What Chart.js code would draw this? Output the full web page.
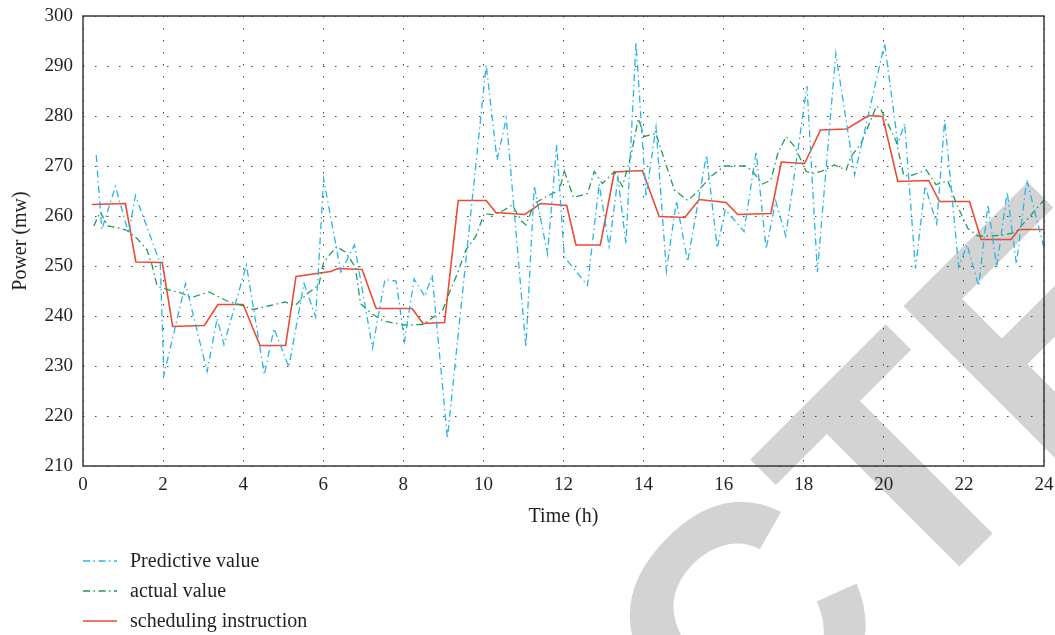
<!DOCTYPE html>
<html>
<head>
<meta charset="utf-8">
<script src="https://cdn.jsdelivr.net/npm/chart.js@4.4.0/dist/chart.umd.min.js"></script>
<style>
html, body { margin: 0; padding: 0; background: #fff; }
#wrap { width: 1055px; height: 635px; position: relative; }
</style>
</head>
<body>
<div id="wrap"><canvas id="chart"></canvas></div>
<script>
// values (time in h, power in mw)
const predTime = [0.33,0.47,0.81,1.14,1.31,1.93,2.02,2.56,3.1,3.35,3.52,4.08,4.53,4.77,5.14,5.52,5.81,6.01,6.44,6.78,7.23,7.54,7.82,8.03,8.27,8.54,8.72,9.1,10.07,10.34,10.57,11.06,11.27,11.6,11.83,12.02,12.6,12.89,13.14,13.36,13.56,13.81,14.06,14.31,14.57,14.82,15.1,15.57,15.84,16.04,16.51,16.81,17.06,17.3,17.55,18.08,18.34,18.8,19.27,20.02,20.35,20.52,20.79,21.03,21.32,21.52,21.87,22.08,22.37,22.6,22.82,23.08,23.31,23.57,24.0];
const predValue = [272.2,257.3,265.9,256.5,264.1,250.5,228.2,246.5,228.9,239.5,234.3,250.2,228.3,237.5,229.8,246.5,239.8,267.4,248.8,254.2,233.6,247.3,247.0,235.0,247.4,243.9,248.2,215.5,290.2,271.2,279.5,233.8,266.0,252.4,274.2,251.8,246.1,266.4,253.9,267.6,254.4,294.8,263.9,277.8,249.0,263.0,250.9,272.2,253.6,261.3,256.9,272.9,253.4,263.0,256.0,286.0,248.8,292.5,268.2,294.5,274.5,278.5,249.5,266.0,258.5,279.2,249.8,254.2,246.0,262.3,249.8,264.8,250.4,267.2,253.6];

const actualTime = [0.27,0.43,0.62,0.9,1.1,1.35,1.6,1.73,1.85,2.1,2.45,2.7,3.15,3.6,4.02,4.25,4.68,5.05,5.3,5.62,5.89,6.01,6.33,6.55,6.8,6.93,7.2,7.5,8.02,8.5,8.77,8.97,9.14,9.35,9.56,9.81,10.02,10.27,10.52,10.72,10.95,11.06,11.27,11.6,11.9,12.02,12.25,12.6,12.77,12.97,13.27,13.47,13.68,13.87,14.02,14.31,14.52,14.77,15.1,15.35,15.68,16.02,16.56,16.72,16.97,17.18,17.35,17.56,17.77,17.93,18.06,18.22,18.43,18.77,19.06,19.18,19.43,19.82,19.93,20.1,20.31,20.5,20.72,21.06,21.3,21.6,21.81,22.1,22.35,22.68,23.0,23.3,23.6,24.0];
const actualValue = [258.0,260.8,258.0,257.6,257.1,255.5,253.2,250.0,246.0,245.3,244.6,243.7,244.8,243.0,242.0,241.3,242.1,242.8,242.1,244.6,246.2,250.8,253.9,252.8,249.8,242.5,240.5,239.0,238.2,238.3,239.9,240.9,244.5,248.5,253.2,255.9,260.5,260.2,261.2,262.2,259.0,258.2,262.5,264.0,265.2,269.0,263.7,264.5,268.9,266.5,268.9,265.9,271.9,279.5,275.9,276.5,271.2,265.2,263.1,264.9,267.9,270.0,270.0,268.9,266.4,267.2,272.5,275.9,273.9,271.2,268.9,268.5,268.9,270.2,269.2,271.9,274.5,282.0,281.2,278.5,274.9,268.0,268.2,269.2,266.3,267.0,262.5,257.5,256.0,256.0,256.2,256.8,259.5,263.2];

const schedTime = [0.22,1.06,1.32,1.98,2.24,3.03,3.37,4.0,4.42,5.06,5.32,6.18,6.37,6.97,7.32,8.22,8.49,9.03,9.37,10.07,10.31,11.03,11.43,12.08,12.31,12.92,13.27,13.97,14.39,15.03,15.39,16.06,16.35,17.18,17.44,18.02,18.42,19.07,19.62,19.97,20.35,21.12,21.39,22.14,22.43,23.18,23.37,24.0];
const schedValue = [262.3,262.5,250.8,250.7,237.9,238.1,242.3,242.3,234.1,234.1,247.9,248.9,249.5,249.3,241.5,241.5,238.5,238.7,263.1,263.1,260.7,260.3,262.5,262.1,254.2,254.2,268.8,269.1,259.9,259.7,263.3,262.7,260.3,260.5,270.8,270.5,277.2,277.4,280.1,279.9,266.9,267.1,262.9,262.9,255.3,255.3,257.3,257.3];

const seriesLabels = ['Predictive value', 'actual value', 'scheduling instruction'];
const xTicks = [0,2,4,6,8,10,12,14,16,18,20,22,24];
const yTicks = [210,220,230,240,250,260,270,280,290,300];

function toPoints(times, values) {
    return times.map((t, i) => ({ x: t, y: values[i] }));
}

const serif = '"Liberation Serif", "Times New Roman", serif';
const textColor = '#231f20';

// grey RETRACTED stamp behind the plot
const watermark = {
    id: 'watermark',
    beforeDraw(chart) {
        const ctx = chart.ctx;
        ctx.save();
        ctx.font = 'bold 325px "Liberation Sans", Arial, sans-serif';
        ctx.fillStyle = '#d3d3d3';
        const shift = ctx.measureText('RETRAC').width + ctx.measureText('T').width / 2;
        ctx.translate(976, 550);
        ctx.rotate(-Math.PI / 4);
        ctx.textBaseline = 'alphabetic';
        ctx.fillText('RETRACTED', -shift, 0);
        ctx.restore();
    }
};

// box around the plot area
const frame = {
    id: 'frame',
    afterDatasetsDraw(chart) {
        const { left, top, right, bottom } = chart.chartArea;
        const ctx = chart.ctx;
        ctx.save();
        ctx.strokeStyle = '#3a3a3a';
        ctx.lineWidth = 1.5;
        ctx.strokeRect(left, top, right - left, bottom - top);
        ctx.restore();
    }
};

// legend stacked under the x axis title
const stackedLegend = {
    id: 'stackedLegend',
    afterDraw(chart) {
        const ctx = chart.ctx;
        const x0 = chart.chartArea.left;
        chart.data.datasets.forEach((ds, i) => {
            const y = 561 + i * 30;
            ctx.save();
            ctx.strokeStyle = ds.borderColor;
            ctx.lineWidth = ds.borderWidth;
            ctx.setLineDash(ds.borderDash || []);
            ctx.beginPath();
            ctx.moveTo(x0, y);
            ctx.lineTo(x0 + 34, y);
            ctx.stroke();
            ctx.setLineDash([]);
            ctx.fillStyle = textColor;
            ctx.font = '20px ' + serif;
            ctx.textBaseline = 'middle';
            ctx.fillText(ds.label, x0 + 47, y + 1);
            ctx.restore();
        });
    }
};

new Chart(document.getElementById('chart'), {
    type: 'line',
    data: {
        datasets: [{
            label: seriesLabels[0],
            data: toPoints(predTime, predValue),
            borderColor: '#27b5e6',
            borderWidth: 1.3,
            borderDash: [7, 3.5, 1.5, 3.5]
        }, {
            label: seriesLabels[1],
            data: toPoints(actualTime, actualValue),
            borderColor: '#1f9d50',
            borderWidth: 1.3,
            borderDash: [7, 3.5, 1.5, 3.5]
        }, {
            label: seriesLabels[2],
            data: toPoints(schedTime, schedValue),
            borderColor: '#ec4a34',
            borderWidth: 1.6
        }]
    },
    options: {
        responsive: true,
        maintainAspectRatio: false,
        animation: false,
        elements: { point: { radius: 0 }, line: { tension: 0 } },
        layout: { padding: { left: 0, top: 16, right: 11, bottom: 105 } },
        plugins: { legend: { display: false }, tooltip: { enabled: false } },
        scales: {
            x: {
                type: 'linear',
                min: 0,
                max: 24,
                afterBuildTicks: s => { s.ticks = xTicks.map(v => ({ value: v })); },
                afterFit: s => { s.height = 64; s.paddingLeft = 0; s.paddingRight = 0; },
                grid: { color: '#444', lineWidth: 1, drawTicks: false },
                border: { display: false, dash: [1.5, 10.5] },
                ticks: { color: textColor, font: { family: serif, size: 19 }, padding: 8, maxRotation: 0 },
                title: { display: true, text: 'Time (h)', color: textColor, font: { family: serif, size: 20 }, padding: { top: 0, bottom: 1 } }
            },
            y: {
                min: 210,
                max: 300,
                afterBuildTicks: s => { s.ticks = yTicks.map(v => ({ value: v })); },
                afterFit: s => { s.width = 83; s.paddingTop = 0; s.paddingBottom = 0; },
                grid: { color: '#444', lineWidth: 1, drawTicks: false },
                border: { display: false, dash: [1.5, 10.5] },
                ticks: { color: textColor, font: { family: serif, size: 19 }, padding: 10 },
                title: { display: true, text: 'Power (mw)', color: textColor, font: { family: serif, size: 20 }, padding: { top: 9, bottom: 0 } }
            }
        }
    },
    plugins: [watermark, frame, stackedLegend]
});
</script>
</body>
</html>
